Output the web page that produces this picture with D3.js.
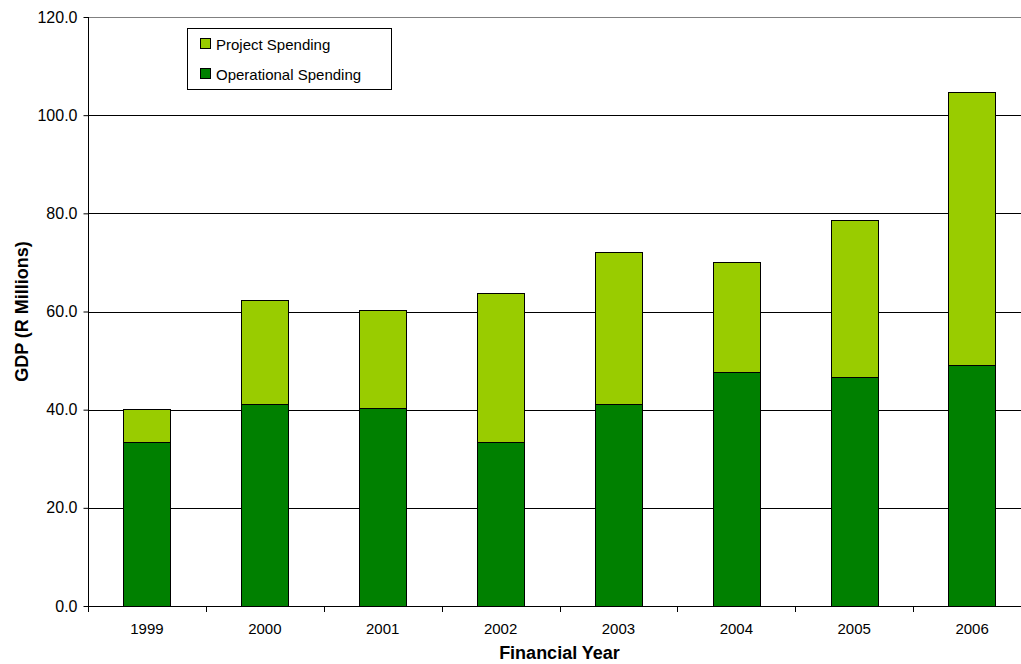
<!DOCTYPE html>
<html><head><meta charset="utf-8">
<script src="https://cdn.jsdelivr.net/npm/d3@7"></script>
<style>body{margin:0;background:#fff}svg{display:block}text{font-family:"Liberation Sans",Arial,sans-serif}</style>
</head><body><svg id="c" width="1021" height="664"></svg>
<script>
const years = ["1999","2000","2001","2002","2003","2004","2005","2006"];
const operational = [33.4, 41.1, 40.3, 33.5, 41.2, 47.7, 46.7, 49.2];
const project = [6.8, 21.2, 20.1, 30.3, 30.9, 22.3, 32.0, 55.6];
const yTicks = [0,20,40,60,80,100,120];
const seriesNames = ["Project Spending","Operational Spending"];
const colors = {op:"#008000", proj:"#99CC00"};

const svg = d3.select("#c");
const L=88, R=1031, T=17, B=606;
const x = d3.scaleBand().domain(years).range([L,R]).paddingInner(0.6).paddingOuter(0.3);
const xb = d3.scaleBand().domain(years).range([L,R]);
const y = d3.scaleLinear().domain([0,120]).range([B,T]);

// gridlines
svg.append("g").selectAll("line").data(yTicks.filter(d=>d>0)).join("line")
  .attr("x1",L).attr("x2",R).attr("y1",d=>Math.round(y(d))+0.5).attr("y2",d=>Math.round(y(d))+0.5)
  .attr("stroke",d=>d===120?"#808080":"#000").attr("stroke-width",1);

const data = years.map((yr,i)=>({yr, op:operational[i], pr:project[i]}));
const g = svg.append("g");
data.forEach(d=>{
  const bx = Math.round(x(d.yr))+0.5, bw = Math.round(x.bandwidth());
  g.append("rect").attr("x",bx).attr("y",Math.round(y(d.op))+0.5).attr("width",bw)
    .attr("height",Math.round(y(0))-Math.round(y(d.op))).attr("fill",colors.op).attr("stroke","#000");
  g.append("rect").attr("x",bx).attr("y",Math.round(y(d.op+d.pr))+0.5).attr("width",bw)
    .attr("height",Math.round(y(d.op))-Math.round(y(d.op+d.pr))).attr("fill",colors.proj).attr("stroke","#000");
});

// y axis
const ya = svg.append("g").attr("transform",`translate(${L+0.5},0)`)
  .call(d3.axisLeft(y).tickValues(yTicks).tickFormat(d3.format(".1f")).tickSize(5).tickPadding(6));
ya.select(".domain").attr("d",`M0,${T}V${B}`).attr("stroke","#000");
ya.selectAll(".tick line").attr("stroke","#000");
ya.selectAll("text").attr("font-size",16).attr("fill","#000").attr("font-family","Liberation Sans, Arial, sans-serif");

// x axis
const xa = svg.append("g").attr("transform",`translate(0,${B+0.5})`)
  .call(d3.axisBottom(xb).tickSize(0).tickPadding(17));
xa.select(".domain").attr("d",`M${L},0H${R}`).attr("stroke","#000");
xa.selectAll("text").attr("font-size",15).attr("fill","#000").attr("font-family","Liberation Sans, Arial, sans-serif");
svg.append("g").selectAll("line").data(d3.range(years.length+1)).join("line")
  .attr("x1",i=>Math.round(L+i*xb.step())+0.5).attr("x2",i=>Math.round(L+i*xb.step())+0.5)
  .attr("y1",B).attr("y2",B+6).attr("stroke","#000");

// titles
svg.append("text").attr("x",(L+R)/2).attr("y",659).attr("text-anchor","middle")
  .attr("font-size",18).attr("font-weight","bold").text("Financial Year");
svg.append("text").attr("transform",`translate(28,${(T+B)/2}) rotate(-90)`).attr("text-anchor","middle")
  .attr("font-size",18).attr("font-weight","bold").text("GDP (R Millions)");

// legend
const lg = svg.append("g");
lg.append("rect").attr("x",187.5).attr("y",28.5).attr("width",204).attr("height",61).attr("fill","#fff").attr("stroke","#000");
const legendItems = [{n:seriesNames[0],c:colors.proj},{n:seriesNames[1],c:colors.op}];
legendItems.forEach((it,i)=>{
  const cy = 44 + i*30;
  lg.append("rect").attr("x",200.5).attr("y",cy-5.5).attr("width",10).attr("height",10).attr("fill",it.c).attr("stroke","#000");
  lg.append("text").attr("x",216).attr("y",cy+5.5).attr("font-size",15).text(it.n);
});
</script></body></html>
